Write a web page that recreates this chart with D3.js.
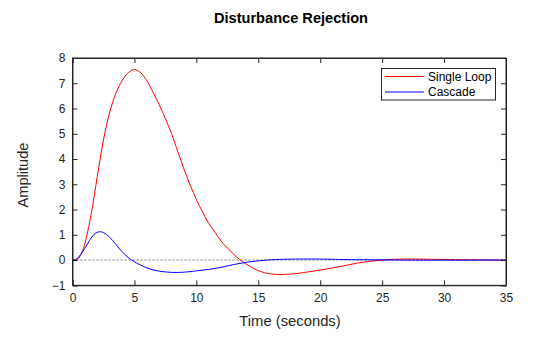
<!DOCTYPE html>
<html><head><meta charset="utf-8">
<script src="https://cdn.jsdelivr.net/npm/d3@7"></script>
<style>body{margin:0;background:#fff}svg{display:block}text{font-family:"Liberation Sans",Arial,sans-serif}</style>
</head><body><svg id="c" width="560" height="337"></svg>
<script>
const timeSL = [0,0.25,0.5,0.75,1,1.5,2,2.5,3,3.5,4,4.5,5,5.5,6,6.5,7,7.5,8,8.5,9,9.5,10,10.5,11,11.5,12,12.5,13,13.5,14,14.5,15,15.5,16,16.5,17,18,19,20,21,22,23,24,25,26,27,28,29,30,32,35];
const singleLoop = [0,0.01,0.08,0.3,0.65,1.8,3.3,4.75,5.85,6.6,7.1,7.42,7.54,7.42,7.1,6.65,6.15,5.6,5.0,4.3,3.6,2.97,2.4,1.9,1.45,1.1,0.75,0.48,0.24,0.02,-0.15,-0.3,-0.42,-0.5,-0.55,-0.57,-0.57,-0.54,-0.47,-0.4,-0.31,-0.22,-0.12,-0.05,0,0.03,0.04,0.04,0.03,0.02,0.01,0];
const timeC = [0,0.25,0.5,0.75,1,1.25,1.5,1.75,2,2.25,2.5,3,3.5,4,4.5,5,5.5,6,6.5,7,7.5,8,8.5,9,10,11,12,13,14,15,16,17,18,19,20,21,22,24,26,28,35];
const cascade = [0,0.02,0.12,0.28,0.47,0.67,0.87,1.02,1.1,1.12,1.09,0.9,0.62,0.33,0.1,-0.07,-0.2,-0.31,-0.39,-0.44,-0.47,-0.49,-0.49,-0.48,-0.43,-0.37,-0.29,-0.18,-0.09,-0.03,0.01,0.03,0.04,0.04,0.04,0.03,0.02,0.01,0,-0.005,0];
const xTicks = [0,5,10,15,20,25,30,35];
const yTicks = [-1,0,1,2,3,4,5,6,7,8];
const seriesNames = ["Single Loop","Cascade"];
const seriesColors = ["#ff0000","#0000ff"];

const svg = d3.select("#c");
const L=72.5,R=506,T=58,B=285.3;
const x = d3.scaleLinear().domain([0,35]).range([L,R]);
const y = d3.scaleLinear().domain([-1,8]).range([B,T]);
const ink="#262626";

// zero reference line
svg.append("line").attr("x1",x(0)).attr("x2",x(35)).attr("y1",y(0)).attr("y2",y(0))
  .attr("stroke","#555").attr("stroke-width",0.8).attr("stroke-dasharray","2,2");

const line = d3.line().x(d=>x(d[0])).y(d=>y(d[1])).curve(d3.curveCatmullRom.alpha(0.5));
svg.append("path").datum(timeSL.map((t,i)=>[t,singleLoop[i]])).attr("d",line)
  .attr("fill","none").attr("stroke",seriesColors[0]).attr("stroke-width",1);
svg.append("path").datum(timeC.map((t,i)=>[t,cascade[i]])).attr("d",line)
  .attr("fill","none").attr("stroke",seriesColors[1]).attr("stroke-width",1);

// axes
const tk=5;
const gx = svg.append("g").attr("transform",`translate(0,${B})`)
  .call(d3.axisBottom(x).tickValues(xTicks).tickSize(-tk).tickPadding(8).tickFormat(d3.format("d")));
const gxt = svg.append("g").attr("transform",`translate(0,${T})`)
  .call(d3.axisTop(x).tickValues(xTicks).tickSize(-tk).tickFormat(""));
const gy = svg.append("g").attr("transform",`translate(${L},0)`)
  .call(d3.axisLeft(y).tickValues(yTicks).tickSize(-tk).tickPadding(7).tickFormat(d3.format("d")));
const gyr = svg.append("g").attr("transform",`translate(${R},0)`)
  .call(d3.axisRight(y).tickValues(yTicks).tickSize(-tk).tickFormat(""));
[gx,gxt,gy,gyr].forEach(g=>{
  g.selectAll(".domain").attr("stroke",ink).attr("stroke-width",1);
  g.selectAll(".tick line").attr("stroke",ink);
  g.selectAll("text").attr("fill",ink).style("font-size","12px").style("font-family",'"Liberation Sans",Arial,sans-serif');
});
svg.append("rect").attr("x",L).attr("y",T).attr("width",R-L).attr("height",B-T)
  .attr("fill","none").attr("stroke",ink).attr("stroke-width",1);

// labels
svg.append("text").attr("x",291).attr("y",23).attr("text-anchor","middle")
  .style("font-size","14.6px").style("font-weight","bold").attr("fill","#000").text("Disturbance Rejection");
svg.append("text").attr("x",290).attr("y",326).attr("text-anchor","middle")
  .style("font-size","14.8px").attr("fill",ink).text("Time (seconds)");
svg.append("text").attr("transform","translate(28,175) rotate(-90)").attr("text-anchor","middle")
  .style("font-size","14.6px").attr("fill",ink).text("Amplitude");

// legend
const lg = svg.append("g");
lg.append("rect").attr("x",381.5).attr("y",68.5).attr("width",114).attr("height",31.5)
  .attr("fill","#fff").attr("stroke",ink).attr("stroke-width",1);
seriesNames.forEach((n,i)=>{
  const yy = 76.5 + i*15.5;
  lg.append("line").attr("x1",385).attr("x2",424).attr("y1",yy).attr("y2",yy)
    .attr("stroke",seriesColors[i]).attr("stroke-width",1);
  lg.append("text").attr("x",428).attr("y",yy+4.3).style("font-size","12px").attr("fill","#000").text(n);
});
</script></body></html>
